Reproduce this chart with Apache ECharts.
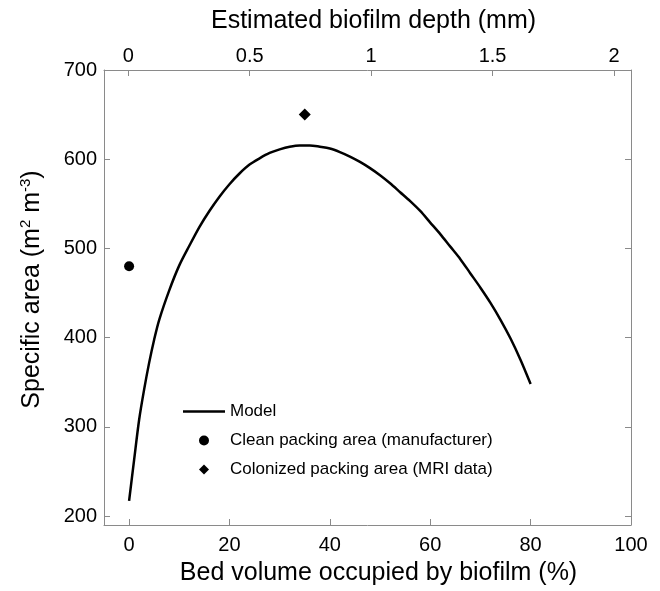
<!DOCTYPE html>
<html>
<head>
<meta charset="utf-8">
<script src="https://cdn.jsdelivr.net/npm/echarts@6/dist/echarts.min.js"></script>
<style>
html,body{margin:0;padding:0;background:#fff;}
#chart{width:660px;height:591px;}
</style>
</head>
<body>
<div id="chart"></div>
<script>
// Model curve: bed volume occupied by biofilm (%) vs specific area (m2 m-3)
var modelVolume = [0, 1, 2, 3, 4, 5, 6, 8, 10, 12, 14, 16, 18, 20, 22, 24, 26, 28, 30, 32, 34, 36, 38, 40, 42, 44, 46, 48, 50, 52, 54, 56, 58, 60, 62, 64, 66, 68, 70, 72, 74, 76, 78, 80];
var modelArea   = [217, 263, 308, 342, 372, 398, 420, 453, 481, 503, 524, 542, 558, 572, 584, 594, 601, 607, 611, 614, 615.5, 615.5, 614, 612, 608, 603, 597, 590, 582, 573, 563, 553, 542, 529, 516, 502, 488, 472, 456, 439, 420, 399, 375, 348];
// Measured points
var cleanVolume = [0];
var cleanArea = [480];
var colonizedVolume = [35];
var colonizedArea = [650];
// Axis ranges and tick labels
var bottomRange = [-5, 100];
var bottomTickValues = [0, 20, 40, 60, 80, 100];
var topRange = [-0.1, 2.07];
var topTickValues = [0, 0.5, 1, 1.5, 2];
var leftRange = [190, 700];
var leftTickValues = [200, 300, 400, 500, 600, 700];
var seriesNames = ['Model', 'Clean packing area (manufacturer)', 'Colonized packing area (MRI data)'];

function zip(a, b) { return a.map(function (v, i) { return [v, b[i]]; }); }

var FONT = '"Liberation Sans", Arial, sans-serif';
var gray = '#8a8a8a';
var TICK_FS = 20;
var NAME_FS = 25;
function axisCommon(extra) {
  var base = {
    type: 'value',
    splitLine: {show: false},
    axisLine: {show: true, onZero: false, lineStyle: {color: gray, width: 1}},
    nameTextStyle: {color: '#000', fontSize: NAME_FS, fontFamily: FONT}
  };
  for (var k in extra) base[k] = extra[k];
  return base;
}
function ticks(values) {
  return {show: true, inside: true, length: 6, lineStyle: {color: gray, width: 1}, customValues: values};
}

var chart = echarts.init(document.getElementById('chart'), null, {renderer: 'canvas'});
chart.setOption({
  animation: false,
  backgroundColor: '#fff',
  textStyle: {fontFamily: FONT},
  grid: {left: 104, right: 29, top: 70, height: 458, containLabel: false},
  legend: {
    orient: 'vertical',
    left: 183,
    top: 403,
    padding: 0,
    itemWidth: 42,
    itemHeight: 10,
    itemGap: 12,
    symbolKeepAspect: true,
    textStyle: {fontSize: 17, color: '#000', fontFamily: FONT},
    data: [
      {name: seriesNames[0], icon: 'path://M0,0L42,0L42,2.5L0,2.5Z'},
      {name: seriesNames[1], icon: 'path://M5,0A5,5,0,1,1,4.99,0Z'},
      {name: seriesNames[2], icon: 'path://M5.5,0L11,5.5L5.5,11L0,5.5Z'}
    ]
  },
  xAxis: [
    axisCommon({
      position: 'bottom',
      min: bottomRange[0], max: bottomRange[1],
      axisTick: ticks(bottomTickValues),
      name: 'Bed volume occupied by biofilm (%)', nameLocation: 'middle', nameGap: 36,
      nameTextStyle: {color: '#000', fontSize: NAME_FS, fontFamily: FONT, padding: [0, 0, 0, 22]},
      axisLabel: {color: '#000', fontSize: TICK_FS, fontFamily: FONT, margin: 10, customValues: bottomTickValues}
    }),
    axisCommon({
      position: 'top',
      min: topRange[0], max: topRange[1],
      axisTick: ticks(topTickValues),
      name: 'Estimated biofilm depth (mm)', nameLocation: 'middle', nameGap: 36,
      nameTextStyle: {color: '#000', fontSize: NAME_FS, fontFamily: FONT, padding: [0, 0, 0, 12]},
      axisLabel: {color: '#000', fontSize: TICK_FS, fontFamily: FONT, margin: 4, customValues: topTickValues}
    })
  ],
  yAxis: [
    axisCommon({
      position: 'left',
      min: leftRange[0], max: leftRange[1],
      axisTick: ticks(leftTickValues),
      name: '{a|Specific area (m}{s|2}{a| m}{s|-3}{a|)}', nameLocation: 'middle', nameGap: 58,
      nameRotate: 90,
      nameTextStyle: {
        color: '#000', fontSize: NAME_FS, fontFamily: FONT, padding: [0, 0, 0, 16],
        rich: {
          a: {fontSize: NAME_FS, fontFamily: FONT, color: '#000', lineHeight: 28},
          s: {fontSize: 15, fontFamily: FONT, color: '#000', verticalAlign: 'top', lineHeight: 28, padding: [0, 0, 12, 0]}
        }
      },
      axisLabel: {color: '#000', fontSize: TICK_FS, fontFamily: FONT, margin: 7, customValues: leftTickValues}
    }),
    axisCommon({
      position: 'right',
      min: leftRange[0], max: leftRange[1],
      axisTick: ticks(leftTickValues),
      axisLabel: {show: false}
    })
  ],
  series: [
    {
      name: seriesNames[0],
      type: 'line',
      xAxisIndex: 0, yAxisIndex: 0,
      data: zip(modelVolume, modelArea),
      smooth: 0.3,
      symbol: 'none',
      lineStyle: {color: '#000', width: 2.5},
      itemStyle: {color: '#000'}
    },
    {
      name: seriesNames[1],
      type: 'scatter',
      xAxisIndex: 0, yAxisIndex: 0,
      data: zip(cleanVolume, cleanArea),
      symbol: 'circle',
      symbolSize: 10,
      itemStyle: {color: '#000', opacity: 1}
    },
    {
      name: seriesNames[2],
      type: 'scatter',
      xAxisIndex: 0, yAxisIndex: 0,
      data: zip(colonizedVolume, colonizedArea),
      symbol: 'diamond',
      symbolSize: 12,
      itemStyle: {color: '#000', opacity: 1}
    }
  ]
});
</script>
</body>
</html>
